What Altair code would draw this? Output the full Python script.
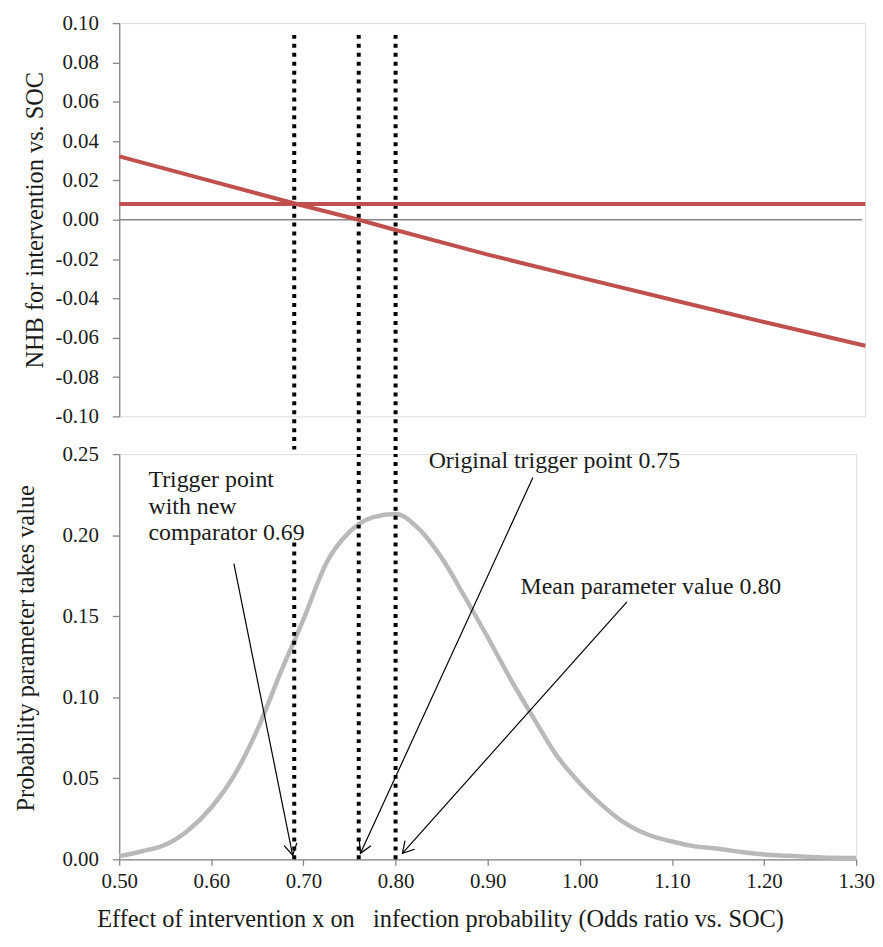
import math
import altair as alt
import pandas as pd

# ---------------- data ----------------
# Bottom panel: probability density of the odds ratio
odds_ratio = [0.500, 0.525, 0.550, 0.575, 0.600, 0.625, 0.650, 0.675, 0.700, 0.725,
              0.750, 0.775, 0.800, 0.825, 0.850, 0.875, 0.900, 0.925, 0.950, 0.975,
              1.000, 1.025, 1.050, 1.075, 1.100, 1.125, 1.150, 1.175, 1.200, 1.225,
              1.250, 1.275, 1.300]
probability = [0.002, 0.005, 0.009, 0.018, 0.032, 0.052, 0.080, 0.115, 0.148, 0.183,
               0.202, 0.211, 0.213, 0.204, 0.186, 0.162, 0.137, 0.111, 0.087, 0.064,
               0.047, 0.033, 0.022, 0.015, 0.011, 0.008, 0.0065, 0.0045, 0.003, 0.0022,
               0.0015, 0.001, 0.0008]

# Top panel: NHB of the intervention vs. SOC
nhb_or = [0.50, 0.60, 0.70, 0.76, 0.80, 0.90, 1.00, 1.10, 1.20, 1.31]
nhb_value = [0.0322, 0.0196, 0.0071, 0.0, -0.0052, -0.0177, -0.0293, -0.0407, -0.0520, -0.0641]
comparator_or = [0.50, 1.31]
comparator_nhb = [0.008, 0.008]

# Trigger points (vertical dotted lines)
trigger_or = [0.69, 0.76, 0.80]

# Tick labels
nhb_ticks = [-0.10, -0.08, -0.06, -0.04, -0.02, 0.00, 0.02, 0.04, 0.06, 0.08, 0.10]
prob_ticks = [0.00, 0.05, 0.10, 0.15, 0.20, 0.25]
or_ticks = [0.50, 0.60, 0.70, 0.80, 0.90, 1.00, 1.10, 1.20, 1.30]

# Annotations
note_text = ["Trigger point\nwith new\ncomparator 0.69",
             "Original trigger point 0.75",
             "Mean parameter value 0.80"]
note_x = [0.5317, 0.8359, 0.9357]
note_y = [0.2296, 0.2412, 0.1640]
arrow_x_from = [0.6245, 0.9491, 1.0512]
arrow_y_from = [0.1825, 0.2356, 0.1588]
arrow_x_to = [0.6883, 0.7619, 0.8074]
arrow_y_to = [0.0025, 0.0037, 0.0037]

# ---------------- styling ----------------
FONT = "Liberation Serif, Times New Roman, DejaVu Serif, serif"
FS = 21        # tick labels
FS_T = 24.5    # axis titles
FS_N = 24      # annotations
TXT = "#1a1a1a"
AXIS_GRAY = "#868686"
RED = "#c0504d"
CURVE_GRAY = "#b9b9b9"
DOT = [4, 5]

TOP_W, TOP_H = 751, 396
BOT_W, BOT_H = 742, 408

label_expr = ("datum.value < -0.00001 ? '-' + format(-datum.value, '.2f') "
              ": format(datum.value, '.2f')")

top_x_scale = alt.Scale(domain=[0.5, 0.5 + 0.8 * TOP_W / BOT_W], nice=False, zero=False)
top_y_scale = alt.Scale(domain=[-0.1, 0.1], nice=False, zero=False)
bot_x_scale = alt.Scale(domain=[0.5, 1.3], nice=False, zero=False)
bot_y_scale = alt.Scale(domain=[0.0, 0.25], nice=False, zero=False)

common_axis = dict(grid=False, domainColor=AXIS_GRAY, tickColor=AXIS_GRAY,
                   domainWidth=1.3, tickWidth=1.3,
                   labelFont=FONT, labelFontSize=FS, labelColor=TXT,
                   titleFont=FONT, titleFontSize=FS_T, titleColor=TXT,
                   titleFontWeight="normal")

top_y_axis = alt.Axis(values=nhb_ticks, labelExpr=label_expr,
                      title="NHB for intervention vs. SOC",
                      tickSize=7, labelPadding=14, titlePadding=8, **common_axis)
bot_y_axis = alt.Axis(values=prob_ticks, format=".2f",
                      title="Probability parameter takes value",
                      tickSize=7, labelPadding=14, titlePadding=23.5,
                      titleY=195, **common_axis)
bot_x_axis = alt.Axis(values=or_ticks, format=".2f",
                      title="Effect of intervention x on\u00a0\u00a0 infection probability (Odds ratio vs. SOC)",
                      tickSize=6, labelPadding=5, labelFlush=False,
                      titleX=323, titleY=68, titleAlign="center",
                      titleBaseline="alphabetic", **common_axis)

TX = lambda f="x": alt.X(f"{f}:Q", scale=top_x_scale, axis=None)
TY = lambda f="y": alt.Y(f"{f}:Q", scale=top_y_scale, axis=top_y_axis)
BX = lambda f="x": alt.X(f"{f}:Q", scale=bot_x_scale, axis=bot_x_axis)
BY = lambda f="y": alt.Y(f"{f}:Q", scale=bot_y_scale, axis=bot_y_axis)

# ---------------- top panel ----------------
zero_df = pd.DataFrame({"y": [0.0]})
zero_line = alt.Chart(zero_df).mark_rule(color=AXIS_GRAY, strokeWidth=1.3).encode(
    x=alt.value(0), x2=alt.value(TOP_W - 3), y=TY())

top_rule_df = pd.DataFrame({"x": trigger_or,
                            "y": [0.094, 0.094, 0.094],
                            "y2": [-0.1168, -0.119, -0.119]})
top_rules = alt.Chart(top_rule_df).mark_rule(
    color="black", strokeWidth=4, strokeDash=DOT).encode(
    x=TX(), y=TY(), y2="y2:Q")

comp_df = pd.DataFrame({"x": comparator_or, "y": comparator_nhb})
comp_line = alt.Chart(comp_df).mark_line(color=RED, strokeWidth=4).encode(x=TX(), y=TY())

nhb_df = pd.DataFrame({"x": nhb_or, "y": nhb_value})
nhb_line = alt.Chart(nhb_df).mark_line(color=RED, strokeWidth=4).encode(x=TX(), y=TY())

top = alt.layer(zero_line, top_rules, comp_line, nhb_line).properties(
    width=TOP_W, height=TOP_H)

# ---------------- bottom panel ----------------
curve_df = pd.DataFrame({"x": odds_ratio, "y": probability})
curve = alt.Chart(curve_df).mark_line(
    color=CURVE_GRAY, strokeWidth=4.5, interpolate="monotone").encode(x=BX(), y=BY())

bot_rule_df = pd.DataFrame({"x": trigger_or,
                            "y": [0.0, 0.0, 0.0],
                            "y2": [0.1958, 0.25, 0.25]})
bot_rules = alt.Chart(bot_rule_df).mark_rule(
    color="black", strokeWidth=4, strokeDash=DOT).encode(
    x=BX(), y=BY(), y2="y2:Q")

PX_X = BOT_W / 0.8
PX_Y = BOT_H / 0.25
angles = []
for x0, y0, x1, y1 in zip(arrow_x_from, arrow_y_from, arrow_x_to, arrow_y_to):
    dx = (x1 - x0) * PX_X
    dy = -(y1 - y0) * PX_Y
    angles.append(math.degrees(math.atan2(dx, -dy)) % 360)

arrow_df = pd.DataFrame({"x": arrow_x_from, "y": arrow_y_from,
                         "x2": arrow_x_to, "y2": arrow_y_to, "angle": angles})
shafts = alt.Chart(arrow_df).mark_rule(color="black", strokeWidth=1.2).encode(
    x=BX(), y=BY(), x2="x2:Q", y2="y2:Q")
heads = alt.Chart(arrow_df).mark_point(
    shape="M -0.5 0.866 L 0 0 L 0.5 0.866", filled=False, color="black",
    strokeWidth=1.2, opacity=1, size=676).encode(
    x=BX("x2"), y=BY("y2"),
    angle=alt.Angle("angle:Q", scale=None))

note_df = pd.DataFrame({"x": note_x, "y": note_y, "t": note_text})
notes = alt.Chart(note_df).mark_text(
    align="left", baseline="alphabetic", font=FONT, fontSize=FS_N, color=TXT,
    lineBreak="\n", lineHeight=26.7).encode(x=BX(), y=BY(), text="t:N")

bottom = alt.layer(curve, bot_rules, shafts, heads, notes).properties(
    width=BOT_W, height=BOT_H)

chart = alt.vconcat(
    top, bottom, spacing=38, bounds="flush",
    padding={"left": 5, "top": 0, "right": 0, "bottom": 0},
).configure_view(stroke=None).configure(background="white")

chart.save("out.html", embed_options={"renderer": "svg", "actions": False})
